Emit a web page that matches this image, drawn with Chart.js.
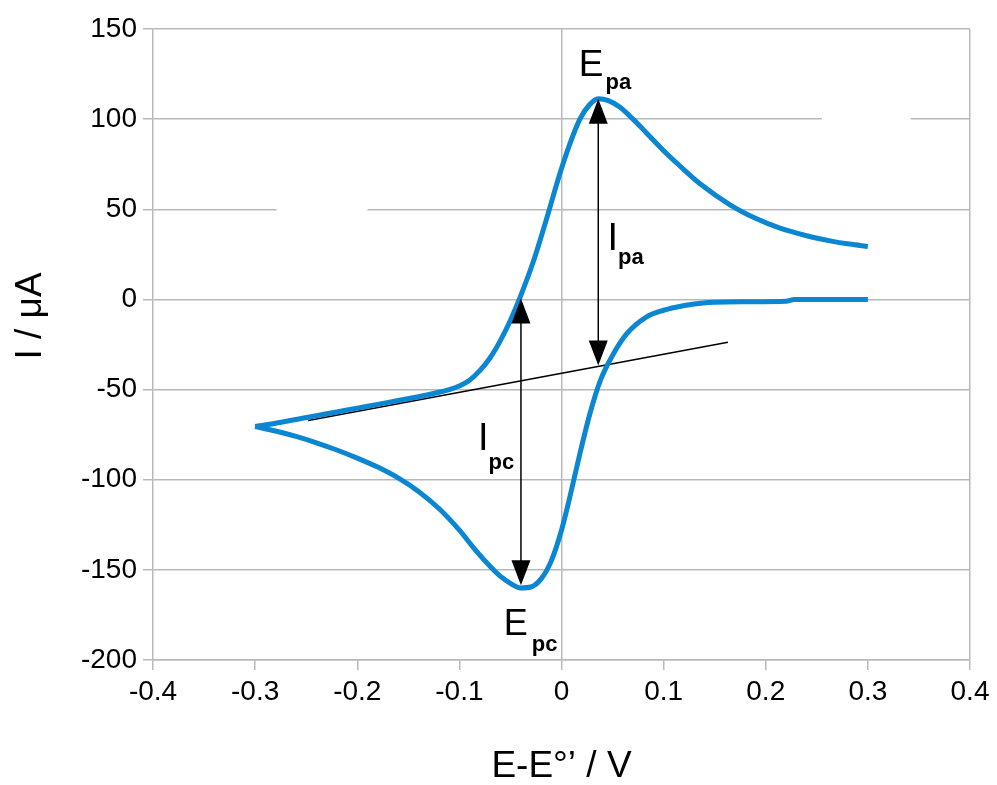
<!DOCTYPE html>
<html lang="en">
<head>
    <meta charset="UTF-8">
    <title>Cyclic voltammogram</title>
    <style>
        body { margin: 0; background: #fff; }
        #chart-container { width: 997px; height: 785px; }
    </style>
</head>
<body>
    <div id="chart-container">
        <canvas id="cvChart" width="997" height="785"></canvas>
    </div>

    <script src="https://cdn.jsdelivr.net/npm/chart.js"></script>
    <script>
        // forward (anodic) scan, E-E°' in V and I in µA
        const anodicE = [-0.300, -0.280, -0.260, -0.240, -0.220, -0.200, -0.180, -0.160, -0.140, -0.120, -0.110, -0.100, -0.090, -0.080, -0.070, -0.060, -0.050, -0.040, -0.027, -0.015, -0.002, 0.008, 0.018, 0.027, 0.036, 0.046, 0.057, 0.070, 0.083, 0.100, 0.116, 0.136, 0.165, 0.190, 0.214, 0.240, 0.263, 0.282, 0.300];
        const anodicI = [-70.5, -68.7, -66.6, -64.5, -62.4, -60.3, -58.2, -56.1, -54.0, -51.5, -50.0, -48.0, -44.8, -39.5, -32.5, -23.0, -11.5, 2.0, 22.0, 44.0, 69.0, 86.0, 100.0, 107.7, 111.3, 110.3, 106.7, 100.0, 92.5, 82.5, 74.0, 64.0, 52.5, 45.0, 39.5, 35.3, 32.5, 30.7, 29.4];

        // reverse (cathodic) scan
        const cathodicE = [-0.300, -0.280, -0.260, -0.240, -0.220, -0.200, -0.180, -0.160, -0.140, -0.120, -0.100, -0.085, -0.070, -0.060, -0.050, -0.040, -0.030, -0.020, -0.010, 0.000, 0.008, 0.018, 0.028, 0.038, 0.051, 0.064, 0.083, 0.100, 0.112, 0.130, 0.150, 0.180, 0.220, 0.228, 0.260, 0.300];
        const cathodicI = [-70.5, -73.0, -76.0, -79.5, -83.5, -88.0, -93.0, -99.0, -106.5, -116.0, -128.0, -138.5, -148.0, -153.5, -157.5, -160.0, -159.5, -155.0, -145.0, -128.0, -110.0, -85.6, -63.0, -45.0, -30.0, -19.0, -9.8, -6.0, -4.3, -2.5, -1.6, -1.3, -1.0, 0.0, 0.0, 0.0];

        // extrapolated capacitive baseline
        const baselineE = [-0.248, 0.163];
        const baselineI = [-67.1, -23.7];

        // peak current arrows: [E, I from, I to]
        const ipcArrow = [-0.0397, 0.5, -158.6];
        const ipaArrow = [0.036, 111.3, -36.6];

        const xTickMin = -0.4, xTickMax = 0.4, xTickStep = 0.1;
        const yTickMin = -200, yTickMax = 150, yTickStep = 50;
        // only these x positions carry a vertical grid line
        const xGridAt = [0, 0.4];

        const toPoints = (xs, ys) => xs.map((v, i) => ({x: v, y: ys[i]}));

        // annotation texts: main letter + subscript, anchored in data units
        const labels = [
            {main: 'E', sub: 'pa', x: 0.0169, y: 124.2, size: 37, gap: 2, drop: 13.5},
            {main: 'I', sub: 'pa', x: 0.0450, y: 27.2, size: 38, gap: 0, drop: 14},
            {main: 'I', sub: 'pc', x: -0.0818, y: -83.7, size: 38, gap: 0, drop: 18.5},
            {main: 'E', sub: 'pc', x: -0.0566, y: -186.4, size: 36, gap: 4, drop: 16}
        ];

        // the reference grid has two short breaks
        const gridGaps = [
            {at: 50, from: -0.279, to: -0.190},
            {at: 100, from: 0.255, to: 0.342}
        ];

        const fontFamily = '"Liberation Sans", Arial, sans-serif';

        function arrowHead(ctx, x, y, dir) {
            const len = 25, half = 9.5;
            ctx.beginPath();
            ctx.moveTo(x, y);
            ctx.lineTo(x - half, y + dir * len);
            ctx.lineTo(x + half, y + dir * len);
            ctx.closePath();
            ctx.fill();
        }

        const decorations = {
            id: 'decorations',
            beforeDatasetsDraw(chart) {
                const {ctx, scales: {x, y}} = chart;
                ctx.save();
                ctx.fillStyle = '#ffffff';
                gridGaps.forEach(g => {
                    const x0 = x.getPixelForValue(g.from);
                    const x1 = x.getPixelForValue(g.to);
                    ctx.fillRect(x0, y.getPixelForValue(g.at) - 2, x1 - x0, 4);
                });
                ctx.restore();
            },
            afterDatasetsDraw(chart) {
                const {ctx, scales: {x, y}} = chart;
                ctx.save();
                ctx.strokeStyle = '#000';
                ctx.fillStyle = '#000';
                ctx.lineWidth = 1.5;
                [ipcArrow, ipaArrow].forEach(a => {
                    const px = x.getPixelForValue(a[0]);
                    const top = y.getPixelForValue(a[1]);
                    const bot = y.getPixelForValue(a[2]);
                    ctx.beginPath();
                    ctx.moveTo(px, top + 20);
                    ctx.lineTo(px, bot - 20);
                    ctx.stroke();
                    arrowHead(ctx, px, top, 1);
                    arrowHead(ctx, px, bot, -1);
                });

                ctx.textBaseline = 'alphabetic';
                ctx.textAlign = 'left';
                labels.forEach(l => {
                    const px = x.getPixelForValue(l.x);
                    const py = y.getPixelForValue(l.y);
                    ctx.font = l.size + 'px ' + fontFamily;
                    ctx.fillText(l.main, px, py);
                    const w = ctx.measureText(l.main).width;
                    ctx.font = 'bold 22px ' + fontFamily;
                    ctx.fillText(l.sub, px + w + l.gap, py + l.drop);
                });

                // y axis title, sits a little above the middle of the axis
                ctx.font = '37px ' + fontFamily;
                ctx.textAlign = 'center';
                ctx.textBaseline = 'middle';
                ctx.translate(31, 316);
                ctx.rotate(-Math.PI / 2);
                ctx.fillText('I / μA', 0, 0);
                ctx.restore();
            }
        };

        const gridColor = '#b9b9b9';
        const tickFont = {family: fontFamily, size: 28};

        const lineSeries = (pts) => ({
            data: pts,
            showLine: true,
            borderColor: '#0a86d2',
            borderWidth: 5,
            pointRadius: 0,
            cubicInterpolationMode: 'monotone'
        });

        new Chart(document.getElementById('cvChart').getContext('2d'), {
            type: 'scatter',
            data: {
                datasets: [
                    lineSeries(toPoints(anodicE, anodicI)),
                    lineSeries(toPoints(cathodicE, cathodicI)),
                    {
                        data: toPoints(baselineE, baselineI),
                        showLine: true,
                        borderColor: '#000',
                        borderWidth: 1.5,
                        pointRadius: 0
                    }
                ]
            },
            options: {
                responsive: false,
                animation: false,
                layout: { padding: { top: 29, right: 27, left: 0, bottom: 0 } },
                plugins: {
                    legend: { display: false },
                    tooltip: { enabled: false }
                },
                scales: {
                    x: {
                        type: 'linear',
                        min: xTickMin,
                        max: xTickMax,
                        afterFit: s => { s.height = 125; },
                        ticks: {
                            stepSize: xTickStep,
                            color: '#000',
                            font: tickFont,
                            padding: 5,
                            callback: v => String(Math.round(v * 10) / 10)
                        },
                        grid: {
                            color: c => (c.tick && xGridAt.some(g => Math.abs(c.tick.value - g) < 1e-9)) ? gridColor : 'rgba(0,0,0,0)',
                            tickColor: gridColor,
                            lineWidth: 1.5,
                            tickLength: 10
                        },
                        border: { color: gridColor, width: 1.5 },
                        title: {
                            display: true,
                            text: 'E-E°’ / V',
                            color: '#000',
                            font: {family: fontFamily, size: 37, lineHeight: 1},
                            padding: { top: 0, bottom: 0 }
                        }
                    },
                    y: {
                        type: 'linear',
                        min: yTickMin,
                        max: yTickMax,
                        afterFit: s => { s.width = 153; },
                        ticks: {
                            stepSize: yTickStep,
                            color: '#000',
                            font: tickFont,
                            padding: 6
                        },
                        grid: { color: gridColor, tickColor: gridColor, lineWidth: 1.5, tickLength: 10 },
                        border: { color: gridColor, width: 1.5 }
                    }
                }
            },
            plugins: [decorations]
        });
    </script>
</body>
</html>
